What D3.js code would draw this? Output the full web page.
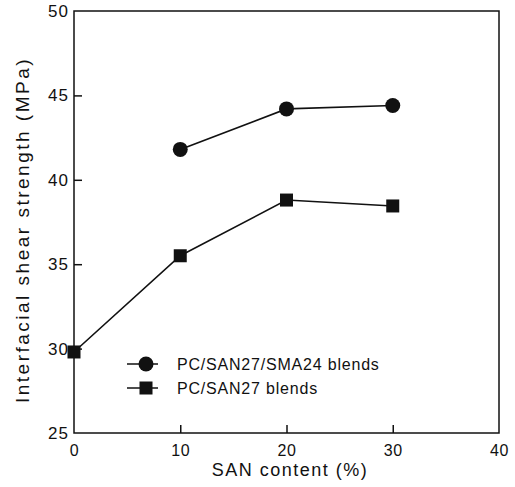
<!DOCTYPE html>
<html><head><meta charset="utf-8">
<script src="https://cdn.jsdelivr.net/npm/d3@7"></script>
<style>body{margin:0;background:#fff}svg text{font-family:"Liberation Sans",Arial,sans-serif;fill:#111}</style>
</head><body><svg id="c" width="515" height="487"></svg>
<script>
const xTicks = [0, 10, 20, 30, 40];
const yTicks = [25, 30, 35, 40, 45, 50];
const smaX = [10, 20, 30];
const smaY = [41.8, 44.2, 44.4];
const sanX = [0, 10, 20, 30];
const sanY = [29.8, 35.5, 38.8, 38.45];
const legendLabels = ["PC/SAN27/SMA24 blends", "PC/SAN27 blends"];

const svg = d3.select("#c");
const m = {l: 74, r: 499, t: 11, b: 433};
const x = d3.scaleLinear().domain([0, 40]).range([m.l, m.r]);
const y = d3.scaleLinear().domain([25, 50]).range([m.b, m.t]);
const ink = "#111";
const ff = '"Liberation Sans",Arial,sans-serif';

// frame
svg.append("rect").attr("x", m.l).attr("y", m.t).attr("width", m.r - m.l).attr("height", m.b - m.t)
  .attr("fill", "none").attr("stroke", ink).attr("stroke-width", 1.5);

// x axis
const xa = svg.append("g").attr("transform", `translate(0,${m.b})`)
  .call(d3.axisBottom(x).tickValues(xTicks).tickSizeInner(-8).tickSizeOuter(0).tickPadding(12).tickFormat(d3.format("d")));
xa.select(".domain").remove();
xa.selectAll(".tick line").attr("stroke", ink).attr("stroke-width", 1.5).filter(d => d === 0 || d === 40).remove();
xa.selectAll("text").attr("font-size", 16).attr("letter-spacing", 0.5).style("font-family", ff).attr("fill", ink);

// y axis
const ya = svg.append("g").attr("transform", `translate(${m.l},0)`)
  .call(d3.axisLeft(y).tickValues(yTicks).tickSizeInner(-8).tickSizeOuter(0).tickPadding(5).tickFormat(d3.format("d")));
ya.select(".domain").remove();
ya.selectAll(".tick line").attr("stroke", ink).attr("stroke-width", 1.5).filter(d => d === 25 || d === 50).remove();
ya.selectAll("text").attr("font-size", 17).attr("letter-spacing", 1).style("font-family", ff).attr("fill", ink);

// titles
svg.append("text").attr("x", 290).attr("y", 476).attr("text-anchor", "middle")
  .attr("font-size", 18).attr("letter-spacing", 1.5).text("SAN content (%)");
svg.append("text").attr("transform", `translate(29,230) rotate(-90)`).attr("text-anchor", "middle")
  .attr("font-size", 19).attr("letter-spacing", 2.5).text("Interfacial shear strength (MPa)");

const line = d3.line().x(d => x(d[0])).y(d => y(d[1]));
const smaPts = smaX.map((v, i) => [v, smaY[i]]);
const sanPts = sanX.map((v, i) => [v, sanY[i]]);

svg.append("path").attr("d", line(smaPts)).attr("fill", "none").attr("stroke", ink).attr("stroke-width", 1.6);
svg.append("path").attr("d", line(sanPts)).attr("fill", "none").attr("stroke", ink).attr("stroke-width", 1.6);

svg.selectAll("circle.sma").data(smaPts).join("circle").attr("class", "sma")
  .attr("cx", d => x(d[0])).attr("cy", d => y(d[1])).attr("r", 7.5).attr("fill", ink);
const s = 13;
svg.selectAll("rect.san").data(sanPts).join("rect").attr("class", "san")
  .attr("x", d => x(d[0]) - s / 2).attr("y", d => y(d[1]) - s / 2).attr("width", s).attr("height", s).attr("fill", ink);

// legend
const lg = svg.append("g");
legendLabels.forEach((lab, i) => {
  const ly = 364 + i * 24;
  lg.append("line").attr("x1", 127).attr("x2", 158).attr("y1", ly).attr("y2", ly).attr("stroke", ink).attr("stroke-width", 1.5);
  if (i === 0) lg.append("circle").attr("cx", 146).attr("cy", ly).attr("r", 7.5).attr("fill", ink);
  else lg.append("rect").attr("x", 146 - 6.5).attr("y", ly - 6.5).attr("width", 13).attr("height", 13).attr("fill", ink);
  lg.append("text").attr("x", 177).attr("y", ly + 6).attr("font-size", 16).attr("letter-spacing", 0.8).text(lab);
});
</script></body></html>
